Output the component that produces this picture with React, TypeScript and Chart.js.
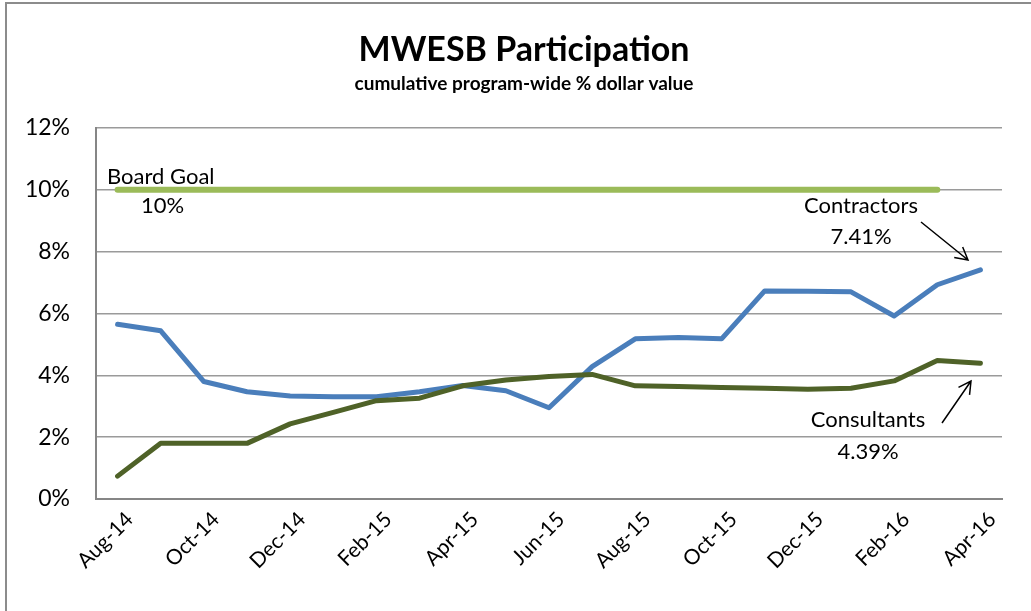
import React, { useEffect, useRef } from "react";
import { Chart, registerables } from "chart.js";

Chart.register(...registerables);

const months = [
  "Aug-14", "Sep-14", "Oct-14", "Nov-14", "Dec-14", "Jan-15", "Feb-15",
  "Mar-15", "Apr-15", "May-15", "Jun-15", "Jul-15", "Aug-15", "Sep-15",
  "Oct-15", "Nov-15", "Dec-15", "Jan-16", "Feb-16", "Mar-16", "Apr-16",
];

const contractors = [
  5.65, 5.44, 3.8, 3.47, 3.33, 3.31, 3.31, 3.47, 3.67, 3.5, 2.95,
  4.28, 5.18, 5.22, 5.18, 6.73, 6.72, 6.7, 5.92, 6.93, 7.41,
];

const consultants = [
  0.74, 1.8, 1.8, 1.8, 2.43, 2.8, 3.18, 3.26, 3.66, 3.85, 3.96,
  4.03, 3.66, 3.64, 3.61, 3.58, 3.55, 3.58, 3.82, 4.48, 4.39,
];

const boardGoal = [
  10, 10, 10, 10, 10, 10, 10, 10, 10, 10, 10,
  10, 10, 10, 10, 10, 10, 10, 10, 10, null,
];

const yTicks = [0, 2, 4, 6, 8, 10, 12];

const FONT = "Lato, 'Open Sans', sans-serif";

function arrow(ctx: CanvasRenderingContext2D, x1: number, y1: number, x2: number, y2: number) {
  ctx.save();
  ctx.strokeStyle = "#000";
  ctx.lineWidth = 1.5;
  ctx.beginPath();
  ctx.moveTo(x1, y1);
  ctx.lineTo(x2, y2);
  const a = Math.atan2(y2 - y1, x2 - x1);
  const L = 14;
  const s = 0.5;
  ctx.moveTo(x2 - L * Math.cos(a - s), y2 - L * Math.sin(a - s));
  ctx.lineTo(x2, y2);
  ctx.lineTo(x2 - L * Math.cos(a + s), y2 - L * Math.sin(a + s));
  ctx.stroke();
  ctx.restore();
}

const textPlugin = {
  id: "texts",
  afterDraw(chart: any) {
    const ctx = chart.ctx as CanvasRenderingContext2D;
    ctx.save();
    ctx.fillStyle = "#000";
    ctx.textAlign = "center";
    ctx.textBaseline = "alphabetic";
    ctx.font = `bold 34px ${FONT}`;
    ctx.fillText("MWESB Participation", 524, 61);
    ctx.font = `bold 19px ${FONT}`;
    ctx.fillText("cumulative program-wide % dollar value", 524, 90);

    ctx.font = `22px ${FONT}`;
    ctx.textBaseline = "middle";
    ctx.textAlign = "left";
    ctx.fillText("Board Goal", 107, 177);
    ctx.fillText("10%", 141, 206);
    ctx.textAlign = "center";
    ctx.fillText("Contractors", 861, 206);
    ctx.fillText("7.41%", 861, 237);
    ctx.fillText("Consultants", 868, 420);
    ctx.fillText("4.39%", 868, 452);
    ctx.restore();

    arrow(ctx, 921, 222, 968, 260);
    arrow(ctx, 942, 423, 971, 381);
  },
};

export default function App() {
  const ref = useRef<HTMLCanvasElement | null>(null);
  useEffect(() => {
    if (!ref.current) return;
    const chart = new Chart(ref.current, {
      type: "line",
      data: {
        labels: months,
        datasets: [
          {
            label: "Contractors",
            data: contractors,
            borderColor: "#4a7ebb",
            borderWidth: 5,
            pointRadius: 0,
            tension: 0,
            borderJoinStyle: "round",
            borderCapStyle: "round",
            order: 3,
          },
          {
            label: "Consultants",
            data: consultants,
            borderColor: "#4f6228",
            borderWidth: 5,
            pointRadius: 0,
            tension: 0,
            borderJoinStyle: "round",
            borderCapStyle: "round",
            order: 2,
          },
          {
            label: "Board Goal",
            data: boardGoal,
            borderColor: "#9bbb59",
            borderWidth: 6,
            pointRadius: 0,
            tension: 0,
            borderCapStyle: "round",
            order: 1,
          },
        ],
      },
      options: {
        responsive: false,
        animation: false,
        devicePixelRatio: 1,
        layout: { padding: { left: 0, right: 29, top: 128, bottom: 0 } },
        plugins: {
          legend: { display: false },
          title: { display: false },
          tooltip: { enabled: false },
        },
        scales: {
          x: {
            type: "category",
            offset: true,
            grid: { display: false, drawTicks: false },
            border: { display: true, color: "#868686", width: 2 },
            ticks: {
              autoSkip: false,
              maxRotation: 45,
              minRotation: 45,
              padding: 8,
              labelOffset: 12,
              color: "#000",
              font: { family: FONT, size: 21 },
              callback: function (this: any, val: any, idx: number) {
                return idx % 2 === 0 ? months[idx] : "";
              },
            },
            afterFit(scale: any) {
              scale.height = 112;
            },
          },
          y: {
            min: 0,
            max: 12,
            afterBuildTicks(scale: any) {
              scale.ticks = yTicks.map((v) => ({ value: v }));
            },
            grid: { color: "#9a9a9a", lineWidth: 1.5, drawTicks: false },
            border: { display: true, color: "#868686", width: 2 },
            ticks: {
              padding: 26,
              color: "#000",
              font: { family: FONT, size: 23 },
              callback: (v: any) => `${v}%`,
            },
            afterFit(scale: any) {
              scale.width = 96;
            },
          },
        },
      },
      plugins: [textPlugin],
    });
    return () => chart.destroy();
  }, []);

  return (
    <div style={{ position: "fixed", left: 0, top: 0, width: 1031, height: 611, background: "#fff", overflow: "hidden" }}>
      <div
        style={{
          position: "absolute",
          left: 5,
          top: 2,
          width: 1060,
          height: 640,
          borderLeft: "2px solid #8c8c8c",
          borderTop: "2px solid #8c8c8c",
        }}
      />
      <canvas ref={ref} width={1031} height={611} style={{ position: "absolute", left: 0, top: 0 }} />
    </div>
  );
}
